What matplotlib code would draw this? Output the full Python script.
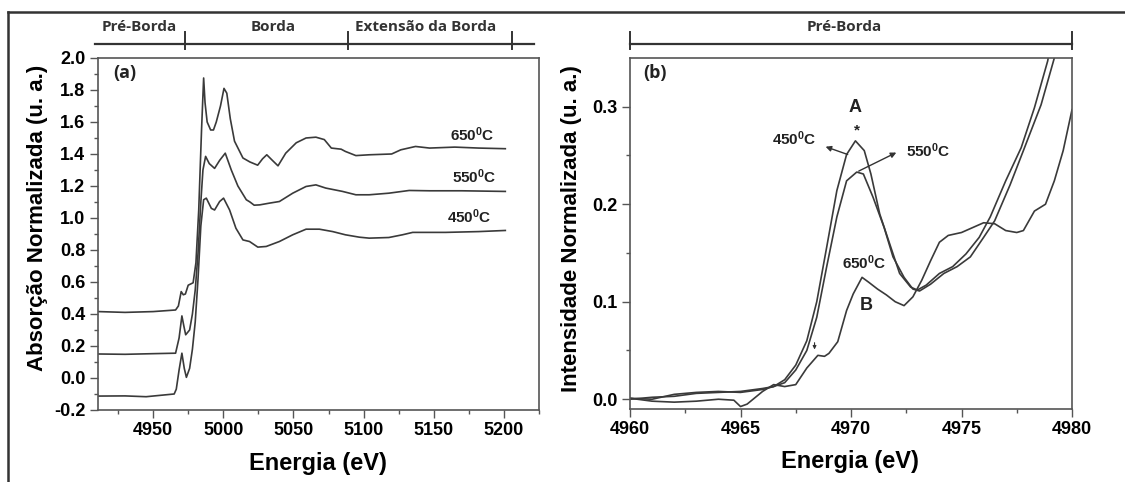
import matplotlib
matplotlib.use("Agg")
import matplotlib.pyplot as plt
from matplotlib.lines import Line2D
import matplotlib.transforms as mtransforms

plt.rcParams['font.family'] = ['Liberation Sans', 'DejaVu Sans']
plt.rcParams['mathtext.default'] = 'regular'

# ---------------- Panel (a) data ----------------
e650_a = [4911, 4930, 4950, 4966, 4968, 4970, 4971.5, 4973, 4975, 4978.5, 4980.5, 4982.5,
          4984.5, 4986, 4987, 4988.5, 4991, 4993, 4995, 4998, 5000.5, 5002.5, 5005, 5008,
          5014, 5019, 5024.5, 5028, 5031, 5035, 5039, 5044.5, 5052, 5059, 5066, 5072, 5077,
          5084, 5087, 5094.5, 5104, 5120, 5126.5, 5137, 5147, 5165, 5182, 5201]
a650 = [0.415, 0.41, 0.415, 0.425, 0.45, 0.54, 0.52, 0.525, 0.58, 0.595, 0.72, 1.05,
        1.55, 1.875, 1.72, 1.60, 1.55, 1.55, 1.60, 1.70, 1.81, 1.78, 1.62, 1.48,
        1.375, 1.35, 1.33, 1.37, 1.395, 1.36, 1.326, 1.405, 1.47, 1.50, 1.505, 1.49, 1.437,
        1.43, 1.416, 1.39, 1.395, 1.40, 1.426, 1.447, 1.437, 1.443, 1.437, 1.433]

e550_a = [4911, 4930, 4950, 4966, 4968.5, 4970.5, 4972, 4973.2, 4976, 4978, 4980, 4982,
          4984, 4985.5, 4987.4, 4990, 4993.8, 4997.4, 5001.4, 5005.7, 5010.4, 5016.4, 5019,
          5022, 5026, 5033, 5040, 5049.5, 5059, 5066, 5073, 5085, 5094.5, 5104, 5118,
          5132.5, 5147, 5170, 5201]
a550 = [0.15, 0.148, 0.152, 0.155, 0.25, 0.388, 0.32, 0.27, 0.30, 0.40, 0.55, 0.78,
        1.1, 1.30, 1.385, 1.34, 1.31, 1.36, 1.405, 1.30, 1.20, 1.114, 1.10,
        1.08, 1.082, 1.093, 1.103, 1.155, 1.197, 1.207, 1.187, 1.166, 1.145, 1.145, 1.155,
        1.172, 1.17, 1.17, 1.166]

e450_a = [4911, 4930, 4945, 4965, 4966.5, 4968.5, 4970.5, 4972.2, 4973.7, 4976, 4978, 4980,
          4982, 4984, 4986, 4987.9, 4991.5, 4993.8, 4997.4, 5000.2, 5004.5, 5009, 5014,
          5018.7, 5024.6, 5030.6, 5040, 5049.5, 5059, 5068.5, 5078, 5087, 5097, 5104, 5118,
          5127.7, 5135, 5158.5, 5182, 5201]
a450 = [-0.113, -0.112, -0.117, -0.10, -0.07, 0.05, 0.155, 0.06, 0.004, 0.06, 0.18, 0.35,
        0.62, 0.95, 1.114, 1.124, 1.06, 1.05, 1.103, 1.124, 1.05, 0.936, 0.863,
        0.853, 0.818, 0.822, 0.853, 0.895, 0.93, 0.93, 0.915, 0.895, 0.88, 0.874, 0.878,
        0.895, 0.91, 0.91, 0.915, 0.922]

# ---------------- Panel (b) data ----------------
e450_b = [4960, 4961, 4962, 4963, 4964, 4965, 4966, 4966.5, 4967, 4967.5, 4968, 4968.45,
          4968.9, 4969.36, 4969.8, 4970.2, 4970.6, 4970.9, 4971.3, 4971.8, 4972.2, 4972.7,
          4973, 4973.4, 4974, 4974.6, 4975.2, 4975.8, 4976.3, 4977, 4977.7, 4978.3, 4978.9, 4979.0]
b450 = [0.001, 0.0, 0.005, 0.007, 0.008, 0.007, 0.010, 0.013, 0.02, 0.035, 0.06, 0.10,
        0.156, 0.214, 0.251, 0.265, 0.255, 0.231, 0.19, 0.156, 0.129, 0.115,
        0.112, 0.117, 0.129, 0.136, 0.149, 0.166, 0.187, 0.224, 0.258, 0.299, 0.347, 0.36]

e550_b = [4960, 4961, 4962, 4963, 4964, 4965, 4966, 4966.5, 4967, 4967.5, 4968, 4968.45,
          4968.9, 4969.36, 4969.8, 4970.26, 4970.56, 4971, 4971.5, 4971.9, 4972.4, 4972.8,
          4973.1, 4973.6, 4974.2, 4974.8, 4975.4, 4976, 4976.5, 4977.2, 4977.8, 4978.6,
          4979.2, 4979.3]
b550 = [0.0, 0.002, 0.003, 0.006, 0.007, 0.008, 0.011, 0.013, 0.017, 0.03, 0.05, 0.084,
        0.136, 0.187, 0.224, 0.233, 0.231, 0.207, 0.176, 0.146, 0.125, 0.113,
        0.111, 0.118, 0.129, 0.136, 0.146, 0.166, 0.183, 0.22, 0.255, 0.302,
        0.35, 0.36]

e650_b = [4960, 4961, 4962, 4963, 4964, 4964.7, 4965, 4965.3, 4966, 4966.5, 4967, 4967.5,
          4968, 4968.5, 4968.8, 4969, 4969.4, 4969.8, 4970.1, 4970.5, 4970.8, 4971.2,
          4971.6, 4972, 4972.4, 4972.8, 4973.2, 4973.6, 4974, 4974.4, 4975, 4975.5, 4976,
          4976.5, 4977, 4977.5, 4977.8, 4978.3, 4978.8, 4979.2, 4979.6, 4980]
b650 = [0.001, -0.002, -0.003, -0.002, 0.0, -0.001, -0.0075, -0.005, 0.008, 0.015, 0.013, 0.015,
        0.032, 0.045, 0.044, 0.047, 0.059, 0.091, 0.108, 0.125, 0.120, 0.113,
        0.107, 0.100, 0.096, 0.105, 0.122, 0.142, 0.161, 0.168, 0.171, 0.176, 0.181,
        0.180, 0.173, 0.171, 0.173, 0.193, 0.200, 0.224, 0.255, 0.297]

temp_labels = ["450", "550", "650"]
region_labels_a = ["Pré-Borda", "Borda", "Extensão da Borda"]
region_label_b = "Pré-Borda"

LC = '#3a3a3a'
SC = '#555555'
TC = '#222222'


def tlabel(t):
    return t + '$^{0}$C'


fig = plt.figure(figsize=(11.25, 4.82), dpi=100)
axa = fig.add_axes([0.0871, 0.1494, 0.392, 0.7303])
axb = fig.add_axes([0.56, 0.1515, 0.3929, 0.7282])

for ax in (axa, axb):
    for s in ax.spines.values():
        s.set_color(SC)
        s.set_linewidth(1.2)
    ax.tick_params(which='both', direction='out', color=SC, width=1.0,
                   labelsize=13, top=False, right=False)
    ax.tick_params(which='major', length=5.5)
    ax.tick_params(which='minor', length=3)

# ---- panel a ----
axa.plot(e650_a, a650, color=LC, lw=1.2)
axa.plot(e550_a, a550, color=LC, lw=1.2)
axa.plot(e450_a, a450, color=LC, lw=1.2)
axa.set_xlim(4910.7, 5224)
axa.set_ylim(-0.2, 2.0)
axa.set_xticks([4950, 5000, 5050, 5100, 5150, 5200])
axa.set_xticks([4925, 4975, 5025, 5075, 5125, 5175, 5225], minor=True)
axa.set_yticks([-0.2, 0.0, 0.2, 0.4, 0.6, 0.8, 1.0, 1.2, 1.4, 1.6, 1.8, 2.0])
axa.set_yticks([x / 10 for x in range(-1, 20, 2)], minor=True)
axa.set_yticklabels(['-0.2', '0.0', '0.2', '0.4', '0.6', '0.8', '1.0', '1.2', '1.4', '1.6', '1.8', '2.0'])
axa.set_xlabel('Energia (eV)', fontsize=17, fontweight='bold')
axa.set_ylabel('Absorção Normalizada (u. a.)', fontsize=16, fontweight='bold')
axa.xaxis.set_label_coords(0.498, -0.118)
axa.yaxis.set_label_coords(-0.113, 0.545)
axa.text(0.061, 0.957, '(a)', transform=axa.transAxes, fontsize=13, fontweight='bold',
         family=['Open Sans', 'DejaVu Sans'], ha='center', va='center', color=TC)
axa.text(5177.5, 1.52, tlabel(temp_labels[2]), fontsize=11, fontweight='bold', ha='center', va='center', color=TC)
axa.text(5178.7, 1.26, tlabel(temp_labels[1]), fontsize=11, fontweight='bold', ha='center', va='center', color=TC)
axa.text(5175.6, 1.005, tlabel(temp_labels[0]), fontsize=11, fontweight='bold', ha='center', va='center', color=TC)

# bracket above panel a
tra = mtransforms.blended_transform_factory(axa.transData, axa.transAxes)
axa.plot([4908.6, 5221.3], [1.0398, 1.0398], transform=tra, color='#333333', lw=1.6, clip_on=False)
for xt in [4972.5, 5089, 5206]:
    axa.plot([xt, xt], [1.0256, 1.074], transform=tra, color='#333333', lw=1.4, clip_on=False)
for xt, lab in zip([4939.9, 5035.8, 5144.5], region_labels_a):
    axa.text(xt, 1.088, lab, transform=tra, fontsize=11, fontweight='bold',
             family=['Open Sans', 'DejaVu Sans'], ha='center', va='center', color='#333333')

# ---- panel b ----
axb.plot(e450_b, b450, color=LC, lw=1.2)
axb.plot(e550_b, b550, color=LC, lw=1.2)
axb.plot(e650_b, b650, color=LC, lw=1.2)
axb.set_xlim(4960, 4980)
axb.set_ylim(-0.01, 0.35)
axb.set_xticks([4960, 4965, 4970, 4975, 4980])
axb.set_xticks([4962.5, 4967.5, 4972.5, 4977.5], minor=True)
axb.set_yticks([0.0, 0.1, 0.2, 0.3])
axb.set_yticklabels(['0.0', '0.1', '0.2', '0.3'])
axb.set_yticks([0.05, 0.15, 0.25], minor=True)
axb.set_xlabel('Energia (eV)', fontsize=17, fontweight='bold')
axb.set_ylabel('Intensidade Normalizada (u. a.)', fontsize=16, fontweight='bold')
axb.xaxis.set_label_coords(0.498, -0.118)
axb.yaxis.set_label_coords(-0.109, 0.514)
axb.text(0.057, 0.957, '(b)', transform=axb.transAxes, fontsize=13, fontweight='bold',
         family=['Open Sans', 'DejaVu Sans'], ha='center', va='center', color=TC)
axb.text(4970.2, 0.299, 'A', fontsize=13, fontweight='bold', ha='center', va='center', color=TC)
axb.text(4970.25, 0.276, '*', fontsize=11, fontweight='bold', ha='center', va='center', color=TC)
axb.text(4970.6, 0.14, tlabel(temp_labels[2]), fontsize=11, fontweight='bold', ha='center', va='center', color=TC)
axb.text(4970.7, 0.096, 'B', fontsize=13, fontweight='bold', ha='center', va='center', color=TC)
axb.text(4967.45, 0.267, tlabel(temp_labels[0]), fontsize=11, fontweight='bold', ha='center', va='center', color=TC)
axb.text(4973.5, 0.255, tlabel(temp_labels[1]), fontsize=11, fontweight='bold', ha='center', va='center', color=TC)
axb.annotate('', xy=(4968.85, 0.259), xytext=(4969.85, 0.251),
             arrowprops=dict(arrowstyle='-|>', color='#333333', lw=1.0,
                             mutation_scale=8, shrinkA=0, shrinkB=0))
axb.annotate('', xy=(4972.05, 0.253), xytext=(4970.35, 0.234),
             arrowprops=dict(arrowstyle='-|>', color='#333333', lw=1.0,
                             mutation_scale=8, shrinkA=0, shrinkB=0))
axb.annotate('', xy=(4968.35, 0.051), xytext=(4968.35, 0.058),
             arrowprops=dict(arrowstyle='-|>', color='#333333', lw=0.8,
                             mutation_scale=5, shrinkA=0, shrinkB=0))

trb = mtransforms.blended_transform_factory(axb.transData, axb.transAxes)
axb.plot([4960, 4980], [1.0398, 1.0398], transform=trb, color='#333333', lw=1.6, clip_on=False)
for xt in [4960, 4980]:
    axb.plot([xt, xt], [1.0256, 1.074], transform=trb, color='#333333', lw=1.4, clip_on=False)
axb.text(4969.7, 1.088, region_label_b, transform=trb, fontsize=11, fontweight='bold',
         family=['Open Sans', 'DejaVu Sans'], ha='center', va='center', color='#333333')

for ax in (axa, axb):
    for lab in ax.get_xticklabels() + ax.get_yticklabels():
        lab.set_fontweight('bold')

# figure frame (top and left lines)
fig.add_artist(Line2D([0.0071, 1.0], [0.975, 0.975], transform=fig.transFigure,
                      color='#333333', lw=1.8))
fig.add_artist(Line2D([0.0071, 0.0071], [0.0, 0.975], transform=fig.transFigure,
                      color='#333333', lw=1.8))

fig.savefig('out.png', dpi=100)
